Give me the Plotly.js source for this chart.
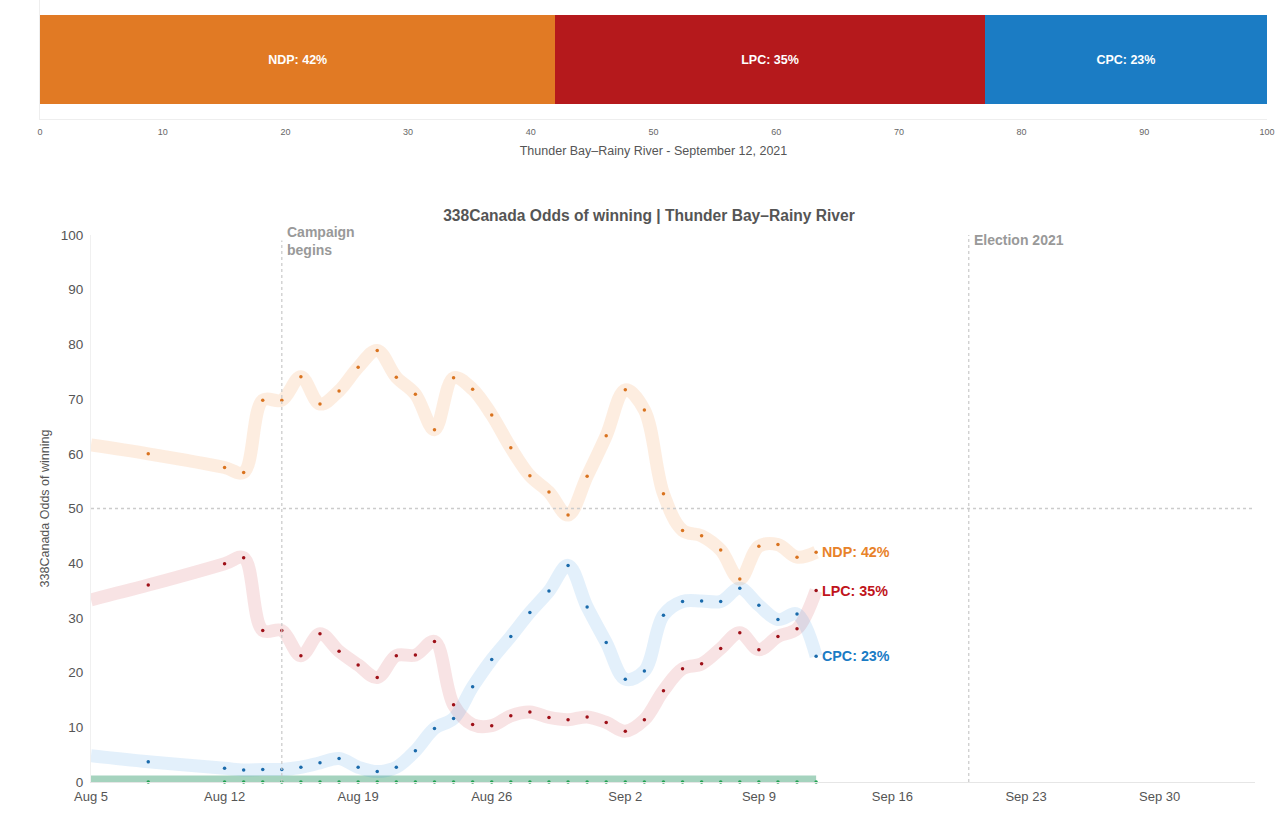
<!DOCTYPE html>
<html>
<head>
<meta charset="utf-8">
<script src="https://cdn.plot.ly/plotly-3.0.1.min.js"></script>
<style>html,body{margin:0;padding:0;background:#fff;}#chart{width:1280px;height:840px;}</style>
</head>
<body>
<div id="chart"></div>
<script>
// ---- Top bar (latest odds) ----
const barParties = ["NDP", "LPC", "CPC"];
const barValues = [42, 35, 23];
const barCategory = ["Thunder Bay–Rainy River"];
const barTitle = "Thunder Bay–Rainy River - September 12, 2021";

// ---- Time series ----
const dates = ["2021-08-05","2021-08-08","2021-08-12","2021-08-13","2021-08-14","2021-08-15","2021-08-16","2021-08-17","2021-08-18","2021-08-19","2021-08-20","2021-08-21","2021-08-22","2021-08-23","2021-08-24","2021-08-25","2021-08-26","2021-08-27","2021-08-28","2021-08-29","2021-08-30","2021-08-31","2021-09-01","2021-09-02","2021-09-03","2021-09-04","2021-09-05","2021-09-06","2021-09-07","2021-09-08","2021-09-09","2021-09-10","2021-09-11","2021-09-12"];
const ndp = [61.6,60.0,57.5,56.6,69.8,69.8,74.1,69.1,71.5,75.8,78.9,74.0,70.9,64.4,73.9,71.8,67.1,61.1,56.0,53.0,48.8,55.9,63.3,71.7,68.0,52.7,46.0,45.0,42.4,37.1,43.1,43.4,41.1,42.0];
const lpc = [33.3,36.0,39.9,41.0,27.7,27.7,23.1,27.1,23.9,21.4,19.1,23.1,23.2,25.7,14.1,10.5,10.3,12.1,12.8,11.8,11.4,11.9,10.9,9.3,11.4,16.7,20.7,21.6,24.4,27.3,24.2,26.6,28.0,35.0];
const cpc = [4.8,3.7,2.5,2.2,2.3,2.3,2.7,3.5,4.3,2.7,1.9,2.7,5.7,9.8,11.6,17.4,22.4,26.6,31.0,34.9,39.6,32.0,25.5,18.8,20.3,30.5,33.0,33.1,33.0,35.4,32.3,29.7,30.7,23.0];
const gpc = [0,0,0,0,0,0,0,0,0,0,0,0,0,0,0,0,0,0,0,0,0,0,0,0,0,0,0,0,0,0,0,0,0,0];
const xTickVals = ["2021-08-05","2021-08-12","2021-08-19","2021-08-26","2021-09-02","2021-09-09","2021-09-16","2021-09-23","2021-09-30"];
const xTickText = ["Aug 5","Aug 12","Aug 19","Aug 26","Sep 2","Sep 9","Sep 16","Sep 23","Sep 30"];
const campaignStart = "2021-08-15";
const electionDay = "2021-09-20";
const mainTitle = "338Canada Odds of winning | Thunder Bay–Rainy River";
const yTitle = "338Canada Odds of winning";

const FONT = "Liberation Sans, Arial, Helvetica, sans-serif";
const barColors = {NDP: "#e17a24", LPC: "#b5191c", CPC: "#1b7cc4"};

const traces = [];
// stacked bars
barParties.forEach((p, i) => {
  traces.push({
    type: "bar", orientation: "h",
    x: [barValues[i]], y: barCategory,
    xaxis: "x", yaxis: "y",
    width: 0.74,
    marker: {color: barColors[p], line: {width: 0}},
    text: [p + ": " + barValues[i] + "%"],
    textposition: "inside", insidetextanchor: "middle",
    textfont: {color: "#ffffff", size: 12.5, family: FONT, weight: "bold"},
    hoverinfo: "skip", showlegend: false
  });
});

const series = [
  {name: "NDP", y: ndp, band: "rgba(245,140,60,0.16)", dot: "#d9731f", label: "#e8822a"},
  {name: "LPC", y: lpc, band: "rgba(200,40,50,0.13)", dot: "#9e1018", label: "#c0141b"},
  {name: "CPC", y: cpc, band: "rgba(40,140,225,0.13)", dot: "#1a6aab", label: "#1a7bc5"},
  {name: "GPC", y: gpc, band: "rgba(40,150,100,0.42)", dot: "#20a050", label: null}
];
[3,0,1,2].forEach(k => {
  const s = series[k];
  traces.push({
    type: "scatter", mode: "lines", x: dates, y: s.y,
    xaxis: "x2", yaxis: "y2",
    line: {color: s.band, width: 13, shape: "spline", smoothing: 1},
    hoverinfo: "skip", showlegend: false
  });
});
series.forEach(s => {
  traces.push({
    type: "scatter", mode: "markers", x: dates.slice(1), y: s.y.slice(1),
    xaxis: "x2", yaxis: "y2",
    marker: {color: s.dot, size: 3.5},
    name: s.name, showlegend: false, cliponaxis: false
  });
});

const annotations = [];
series.forEach(s => {
  if (!s.label) return;
  const last = s.y[s.y.length - 1];
  annotations.push({
    x: dates[dates.length - 1], y: last, xref: "x2", yref: "y2",
    text: "<b>" + s.name + ": " + Math.round(last) + "%</b>",
    showarrow: false, xanchor: "left", yanchor: "middle", xshift: 4,
    font: {color: s.label, size: 14.3, family: FONT}
  });
});
annotations.push({
  x: campaignStart, y: 100, xref: "x2", yref: "y2",
  text: "<b>Campaign<br>begins</b>", align: "left",
  showarrow: false, xanchor: "left", yanchor: "top", xshift: 3, yshift: 13,
  font: {color: "#999999", size: 14, family: FONT}
});
annotations.push({
  x: electionDay, y: 100, xref: "x2", yref: "y2",
  text: "<b>Election 2021</b>", align: "left",
  showarrow: false, xanchor: "left", yanchor: "top", xshift: 3, yshift: 5,
  font: {color: "#999999", size: 14, family: FONT}
});

const shapes = [
  {type: "line", xref: "x2", yref: "y2", x0: dates[0], x1: "2021-10-05", y0: 50, y1: 50,
   line: {color: "#cccccc", width: 1.3, dash: "dot"}},
  {type: "line", xref: "x2", yref: "y2", x0: campaignStart, x1: campaignStart, y0: 0, y1: 99,
   line: {color: "#c8c8c8", width: 1.2, dash: "dot"}},
  {type: "line", xref: "x2", yref: "y2", x0: electionDay, x1: electionDay, y0: 0, y1: 101,
   line: {color: "#c8c8c8", width: 1.2, dash: "dot"}}
];

const layout = {
  width: 1280, height: 840,
  margin: {l: 0, r: 0, t: 0, b: 0},
  paper_bgcolor: "#ffffff", plot_bgcolor: "#ffffff",
  font: {family: FONT, color: "#555555"},
  barmode: "stack",
  showlegend: false,
  title: {text: "<b>" + mainTitle + "</b>", x: 0.507, xanchor: "center", y: 1 - 216/840, yanchor: "middle",
          font: {size: 15.6, color: "#555555", family: FONT}},
  xaxis: {domain: [40/1280, 1267/1280], anchor: "y", range: [0, 100], dtick: 10, tick0: 0,
          showgrid: false, zeroline: false, showline: true, linecolor: "#eeeeee", linewidth: 1,
          ticks: "", tickfont: {size: 9, color: "#666666"}, ticklabelstandoff: 4,
          title: {text: barTitle, font: {size: 12.5, color: "#555555"}, standoff: 10}, fixedrange: true},
  yaxis: {domain: [1 - 119/840, 1], anchor: "x", showticklabels: false, showgrid: false,
          zeroline: false, showline: true, linecolor: "#eeeeee", ticks: "", fixedrange: true},
  xaxis2: {domain: [91/1280, 1255/1280], anchor: "y2", type: "date",
           range: ["2021-08-05", "2021-10-05"],
           tickvals: xTickVals, ticktext: xTickText, ticks: "",
           tickfont: {size: 13, color: "#555555"}, ticklabelstandoff: 2,
           showgrid: false, zeroline: false, showline: true, linecolor: "#e6e6e6", linewidth: 1},
  yaxis2: {domain: [1 - 782/840, 1 - 235/840], anchor: "x2", range: [0, 100], dtick: 10,
           ticks: "", tickfont: {size: 13.5, color: "#555555"}, ticklabelstandoff: 4,
           showgrid: false, zeroline: false, showline: true, linecolor: "#f0f0f0", linewidth: 1,
           title: {text: yTitle, font: {size: 12.5, color: "#555555"}, standoff: 8}},
  annotations: annotations,
  shapes: shapes
};

Plotly.newPlot("chart", traces, layout, {displayModeBar: false, staticPlot: true});
</script>
</body>
</html>
